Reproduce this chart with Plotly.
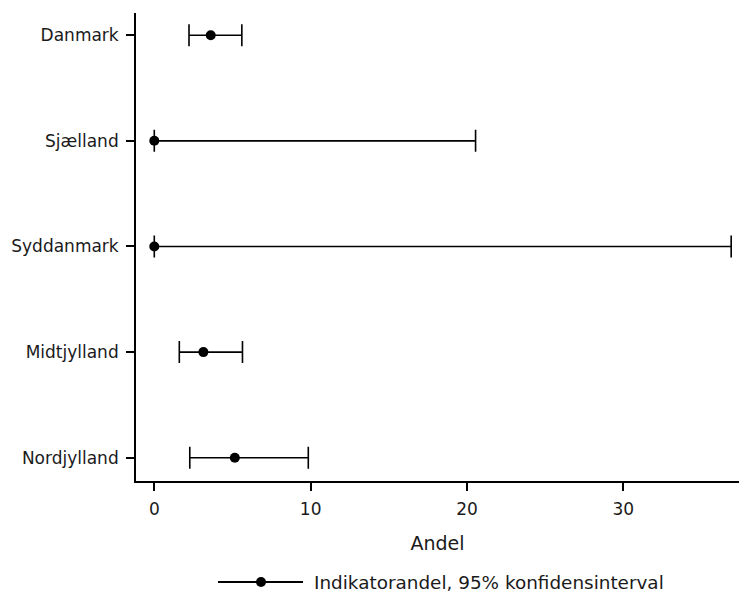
import plotly.graph_objects as go

regions = ["Nordjylland", "Midtjylland", "Syddanmark", "Sjælland", "Danmark"]
andel = [5.15, 3.14, 0.0, 0.0, 3.61]
ci_low = [2.27, 1.60, 0.0, 0.0, 2.22]
ci_high = [9.85, 5.64, 36.9, 20.55, 5.60]
x_ticks = [0, 10, 20, 30]
legend_label = "Indikatorandel, 95% konfidensinterval"
x_title = "Andel"

err_plus = [h - a for h, a in zip(ci_high, andel)]
err_minus = [a - l for a, l in zip(andel, ci_low)]

FONT = "DejaVu Sans"
TXT = "#1a1a1a"

fig = go.Figure()
fig.add_trace(go.Scatter(
    x=andel, y=list(range(len(regions))), mode="markers",
    marker=dict(color="black", size=10),
    error_x=dict(type="data", symmetric=False, array=err_plus, arrayminus=err_minus,
                 color="black", thickness=1.6, width=11),
    showlegend=False,
))

L, R, T, B = 136, 0, 13, 111
W, H = 739, 592
pw, ph = W - L - R, H - T - B

def px(xp):
    return (xp - L) / pw

def py(yp):
    return (H - B - yp) / ph

fig.update_layout(
    width=W, height=H,
    margin=dict(l=L, r=R, t=T, b=B, pad=0),
    plot_bgcolor="white", paper_bgcolor="white",
    font=dict(family=FONT, color=TXT, size=17),
    xaxis=dict(range=[-1.17, 37.4], tickvals=x_ticks, ticks="outside", ticklen=8,
               tickwidth=1.6, tickcolor="black", showline=True, linecolor="black",
               linewidth=1.8, showgrid=False, zeroline=False, ticklabelstandoff=4,
               tickfont=dict(size=17, family=FONT, color=TXT),
               title=dict(text=x_title, font=dict(size=19, family=FONT, color=TXT), standoff=18)),
    yaxis=dict(range=[-0.22, 4.21], tickvals=list(range(len(regions))), ticktext=regions,
               ticks="outside", ticklen=8, tickwidth=1.6, tickcolor="black",
               showline=True, linecolor="black", linewidth=1.8, showgrid=False,
               zeroline=False, ticklabelstandoff=4,
               tickfont=dict(size=17, family=FONT, color=TXT)),
    showlegend=False,
)

# custom legend entry below the axis
ly = 582
fig.add_shape(type="line", xref="paper", yref="paper", x0=px(218), x1=px(303),
              y0=py(ly), y1=py(ly), line=dict(color="black", width=2))
fig.add_shape(type="circle", xref="paper", yref="paper", xsizemode="pixel", ysizemode="pixel",
              xanchor=px(261), yanchor=py(ly), x0=-5, x1=5, y0=-5, y1=5,
              fillcolor="black", line=dict(color="black", width=0))
fig.add_annotation(text=legend_label, xref="paper", yref="paper", x=px(312), y=py(ly),
                   xanchor="left", yanchor="middle", showarrow=False,
                   font=dict(size=18.4, family=FONT, color=TXT))

fig.write_html("out.html")
